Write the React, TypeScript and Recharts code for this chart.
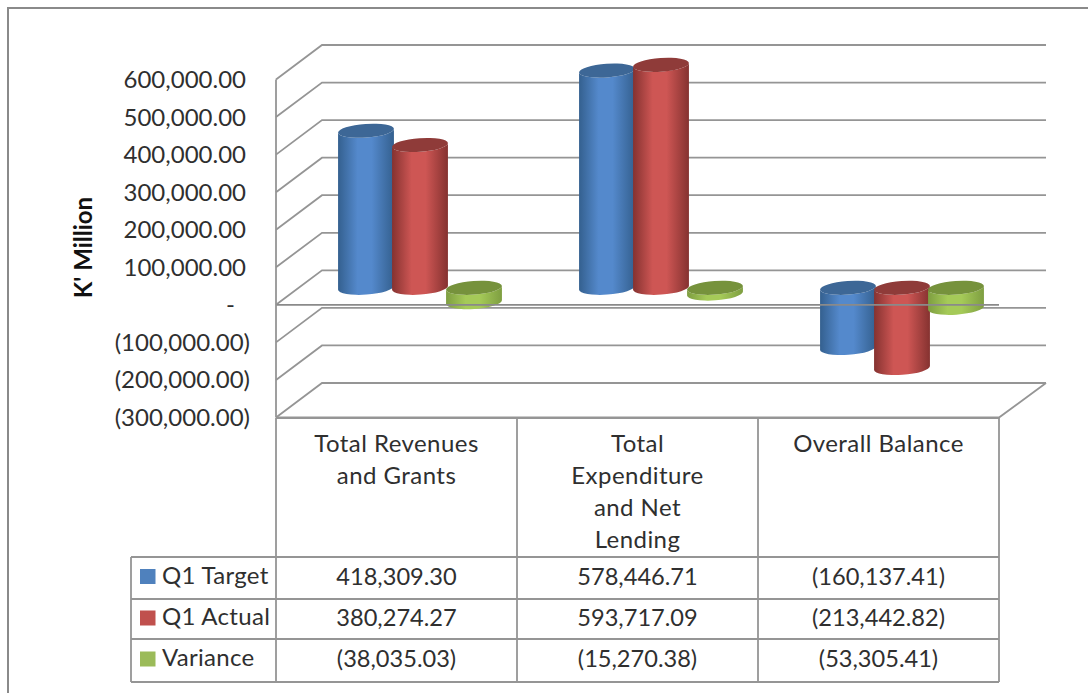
import React from 'react';
import { BarChart, Bar, XAxis, YAxis, CartesianGrid, ReferenceLine } from 'recharts';

const categories = ['Total Revenues and Grants', 'Total Expenditure and Net Lending', 'Overall Balance'];
const categoryLines = [
  ['Total Revenues', 'and Grants'],
  ['Total', 'Expenditure', 'and Net', 'Lending'],
  ['Overall Balance'],
];
const q1Target = [418309.3, 578446.71, -160137.41];
const q1Actual = [380274.27, 593717.09, -213442.82];
const variance = [-38035.03, -15270.38, -53305.41];
const yTicks = [600000, 500000, 400000, 300000, 200000, 100000, 0, -100000, -200000, -300000];
const seriesNames = ['Q1 Target', 'Q1 Actual', 'Variance'];
const seriesValues = [q1Target, q1Actual, variance];
const seriesKeys = ['target', 'actual', 'variance'];

const rows = categories.map((name, i) => ({
  name,
  target: q1Target[i],
  actual: q1Actual[i],
  variance: variance[i],
}));

const FONT = 'Lato, Carlito, sans-serif';
const TEXT = '#2f2f2f';
const LINE = '#959595';
const DEPTH_X = 46;
const DEPTH_Y = 34.5;
const BAR_DX = 23;
const BAR_DY = -17;

const palette = [
  { id: 'cylBlue', key: '#4F81BD', edge: '#34608F', mid: '#5489CC', cap: '#3D6796' },
  { id: 'cylRed', key: '#C0504D', edge: '#853230', mid: '#CE5654', cap: '#8F3B39' },
  { id: 'cylGreen', key: '#9BBB59', edge: '#7E9E41', mid: '#A5CA58', cap: '#76923C' },
];

const money = (v: number) => {
  const s = Math.abs(v).toLocaleString('en-US', { minimumFractionDigits: 2, maximumFractionDigits: 2 });
  return v < 0 ? `(${s})` : s;
};

const cylinder = (idx: number) => (props: any) => {
  const { x, y, width, height } = props;
  const c = palette[idx];
  const top = Math.min(y, y + height) + BAR_DY;
  const bot = Math.max(y, y + height) + BAR_DY;
  const rx = width / 2 + 1;
  const ry = 6.8;
  const tilt = -4;
  const cx = x + width / 2 + BAR_DX;
  const rad = (Math.abs(tilt) * Math.PI) / 180;
  const dy = rx * Math.sin(rad);
  const dx = rx * Math.cos(rad);
  const body = `M${cx - dx},${top + dy} L${cx - dx},${bot + dy} A${rx},${ry} ${tilt} 0 0 ${cx + dx},${bot - dy} L${cx + dx},${top - dy} A${rx},${ry} ${tilt} 0 1 ${cx - dx},${top + dy} Z`;
  return (
    <g>
      <path d={body} fill={`url(#${c.id})`} />
      <ellipse cx={cx} cy={top} rx={rx} ry={ry} transform={`rotate(${tilt} ${cx} ${top})`} fill={c.cap} />
    </g>
  );
};

const YTick = (props: any) => {
  const v = props.payload.value;
  const tx = v === 0 ? 235 : v < 0 ? 250 : 246;
  return (
    <text x={tx} y={props.y + 8.5} textAnchor="end" fontFamily={FONT} fontSize={24} fill={TEXT}>
      {v === 0 ? '-' : money(v)}
    </text>
  );
};

const rowCentres = [576, 617.5, 658.5];

const XTick = (props: any) => {
  const { x, index } = props;
  return (
    <g fontFamily={FONT} textAnchor="middle">
      {categoryLines[index].map((line, i) => (
        <text key={line} x={x} y={451.5 + i * 32.3} fontSize={24} letterSpacing={0.45} fill={TEXT}>{line}</text>
      ))}
      {seriesValues.map((vals, r) => (
        <text key={r} x={x} y={rowCentres[r] + 8.5} fontSize={23.6} fill={TEXT}>{money(vals[index])}</text>
      ))}
    </g>
  );
};

const gridLine = (p: any) => {
  const { x1, x2, y1, key } = p;
  const isFloor = Math.abs(y1 - (p.y + p.height)) < 1;
  return (
    <g key={key}>
      <path
        d={`M${x1},${y1} L${x1 + DEPTH_X},${y1 - DEPTH_Y} L${x2 + 47},${y1 - DEPTH_Y}`}
        fill="none"
        stroke={LINE}
        strokeWidth={1.8}
      />
      {isFloor && (
        <path
          d={`M${x2 + 47},${y1 - DEPTH_Y} L${x2},${y1} L${x1},${y1}`}
          fill="none"
          stroke={LINE}
          strokeWidth={1.8}
        />
      )}
    </g>
  );
};

const tableX = [131, 276, 517, 758, 999];
const tableY = [418, 557, 599, 639, 682];

export default function App() {
  return (
    <div style={{ position: 'absolute', left: 0, top: 0, width: 1088, height: 693, background: '#fff' }}>
      <BarChart
        width={1088}
        height={693}
        data={rows}
        margin={{ top: 79.5, right: 89, bottom: 0, left: 0 }}
        barSize={54}
        barGap={0}
      >
        <defs>
          {palette.map((c) => (
            <linearGradient key={c.id} id={c.id} x1="0" y1="0" x2="1" y2="0">
              <stop offset="0" stopColor={c.edge} />
              <stop offset="0.35" stopColor={c.mid} />
              <stop offset="0.6" stopColor={c.mid} />
              <stop offset="1" stopColor={c.edge} />
            </linearGradient>
          ))}
        </defs>
        {/* outer frame */}
        <path d="M8,693 L8,8 L1088,8" fill="none" stroke="#8a8a8a" strokeWidth={2} />
        <CartesianGrid vertical={false} horizontal={gridLine} />
        <XAxis
          dataKey="name"
          height={275.5}
          axisLine={false}
          tickLine={false}
          interval={0}
          tick={<XTick />}
        />
        <YAxis
          width={276}
          domain={[-300000, 600000]}
          ticks={yTicks}
          interval={0}
          axisLine={{ stroke: LINE, strokeWidth: 1.8 }}
          tickLine={false}
          tick={<YTick />}
          label={{
            value: "K' Million",
            angle: -90,
            position: 'insideLeft',
            dx: 78,
            dy: -1,
            style: { fontFamily: FONT, fontSize: 24, fontWeight: 700, fill: '#111', textAnchor: 'middle' },
          }}
        />
        {seriesKeys.map((k, i) => (
          <Bar key={k} dataKey={k} name={seriesNames[i]} fill={palette[i].key} isAnimationActive={false} shape={cylinder(i)} />
        ))}
        <ReferenceLine y={0} stroke="#8a8a8a" strokeWidth={1.8} />
        {/* data table */}
        <g stroke={LINE} strokeWidth={1.8} fill="none">
          {tableX.map((x, i) => (
            <line key={x} x1={x} x2={x} y1={i === 0 ? tableY[1] : tableY[0]} y2={tableY[4]} />
          ))}
          {tableY.map((y, i) => (
            <line key={y} x1={i === 0 ? tableX[1] : tableX[0]} x2={tableX[4]} y1={y} y2={y} />
          ))}
        </g>
        {seriesNames.map((n, r) => (
          <g key={n}>
            <rect x={140} y={rowCentres[r] - 7} width={15.5} height={15} fill={palette[r].key} />
            <text x={162} y={rowCentres[r] + 7.5} fontFamily={FONT} fontSize={24} letterSpacing={0.3} fill={TEXT}>{n}</text>
          </g>
        ))}
      </BarChart>
    </div>
  );
}
